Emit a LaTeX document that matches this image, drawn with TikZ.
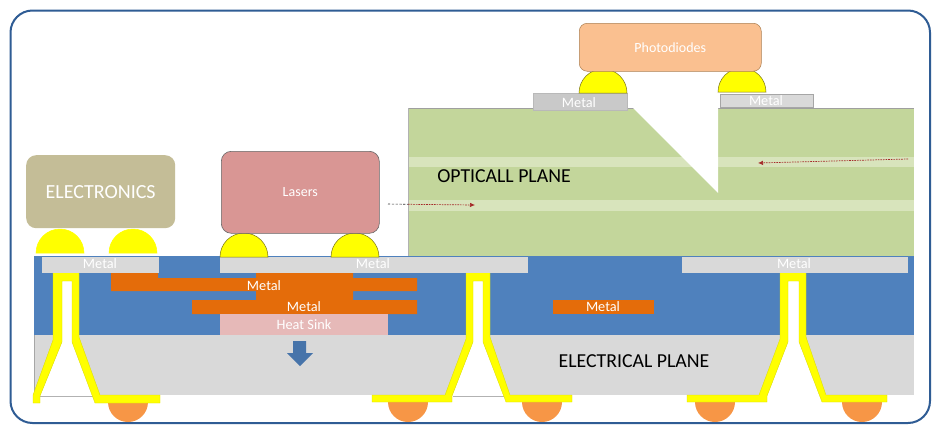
\documentclass[tikz,border=0pt]{standalone}
\usepackage{fontspec}
\setmainfont{Carlito}
\usetikzlibrary{arrows.meta}
\definecolor{frameblue}{HTML}{2F5C94}
\definecolor{subblue}{HTML}{4F81BD}
\definecolor{subgray}{HTML}{D9D9D9}
\definecolor{padgray}{HTML}{C9C9C9}
\definecolor{cuorange}{HTML}{E46C0A}
\definecolor{balloran}{HTML}{F79646}
\definecolor{heatpink}{HTML}{E6B9B8}
\definecolor{optgreen}{HTML}{C3D69B}
\definecolor{stripe}{HTML}{D8E4BC}
\definecolor{viayel}{HTML}{FFFF00}
\definecolor{photo}{HTML}{FAC090}
\definecolor{laser}{HTML}{D99694}
\definecolor{elec}{HTML}{C4BD97}
\definecolor{beam}{HTML}{A52A2A}
\tikzset{
  chipbox/.style={rounded corners=10pt,inner sep=0pt,anchor=north west,font=\fontsize{14}{14}\selectfont,text=white},
  pad/.style={fill=subgray,draw=#1,line width=.6pt,inner sep=0pt,anchor=north west,text=white},
  pad/.default=subgray,
  bump/.style={fill=viayel,draw=#1,line width=.5pt},
  bump/.default=viayel,
  ball/.style={fill=balloran},
  via/.style={fill=viayel,draw=viayel!85!black,line width=.3pt},
  hole/.style={fill=white},
  planelabel/.style={text=black,font=\fontsize{19.8}{19.8}\selectfont,inner sep=0pt},
  metaltext/.style={text=white,font=\fontsize{14.3}{14.3}\selectfont,inner sep=0pt},
  beamline/.style={beam,line width=.7pt,dash pattern=on 1.6pt off 1pt},
  leadline/.style={black!80,line width=.6pt,dash pattern=on 2.2pt off 1.6pt},
}
\newcommand{\semibump}[4]{\path[#4] (#1-#3,#2) arc[start angle=180,end angle=0,radius=#3pt] -- cycle;}
\newcommand{\semiball}[2]{\path[ball] (#1-20,#2) arc[start angle=180,end angle=360,radius=20pt] -- cycle;}
\begin{document}
\begin{tikzpicture}[x=1pt,y=-1pt]
\useasboundingbox (0,0) rectangle (935,426);
\fill[white] (0,0) rectangle (935,426);
\draw[frameblue,line width=2pt,rounded corners=22pt] (10.5,10.5) rectangle (930,423);

% electrical plane
\fill[subblue] (34,256) rectangle (914,335);
\fill[subgray] (34,335) rectangle (914,395);
\draw[gray!70,line width=.4pt] (34,335) -- (34,395);

% optical plane
\fill[optgreen] (408,108) rectangle (914,256);
\fill[stripe] (408,157) rectangle (914,167);
\fill[stripe] (408,200) rectangle (914,211);
\draw[gray!75,line width=.8pt] (408,108) -- (914,108);
\draw[gray!60,line width=.6pt] (408,108) -- (408,256);
\fill[white] (633,108) -- (718,108) -- (718,193) -- cycle;

% copper
\fill[cuorange] (111,271) -- (158,271) -- (158,278) -- (256,278) -- (256,271) -- (353,271) -- (353,278)
  -- (417,278) -- (417,291) -- (353,291) -- (353,300) -- (417,300) -- (417,314) -- (192,314) -- (192,300)
  -- (256,300) -- (256,291) -- (111,291) -- cycle;
\fill[heatpink] (220,314) rectangle (388,335);
\fill[cuorange] (553,300) rectangle (654,314);
\node[metaltext] (m1) at (264,285.5) {Metal};
\node[metaltext] (m2) at (304,307) {Metal};
\node[metaltext] (hs) at (304,325) {Heat Sink};
\node[metaltext] (m3) at (603,307) {Metal};

% heat arrow
\fill[subblue!90!black] (293,341) -- (306,341) -- (306,353) -- (313,353) -- (300,366) -- (287,353) -- (293,353) -- cycle;

% balls
\semiball{128}{402}
\semiball{408}{402}
\semiball{542}{402}
\semiball{715}{402}
\semiball{862}{402}

% vias
\fill[white] (62,281) -- (72,281) -- (72,342) -- (95,396) -- (40,396) -- (62,342) -- cycle;
\draw[gray!60,line width=.5pt] (40,396) -- (95,396);
\path[via] (53,271) -- (79,271) -- (79,337) -- (100,395) -- (160,395) -- (160,403) -- (95,403) -- (72,342)
  -- (72,281) -- (62,281) -- (62,342) -- (40,396) -- (40,403) -- (33,403) -- (33,395) -- (53,340) -- cycle;

\fill[white] (473,281) -- (483,281) -- (483,342) -- (506,396) -- (452,396) -- (473,342) -- cycle;
\draw[gray!60,line width=.5pt] (453,396) -- (505,396);
\path[via] (466,271) -- (490,271) -- (490,337) -- (510,395) -- (572,395) -- (572,402) -- (506,402) -- (483,342)
  -- (483,281) -- (473,281) -- (473,342) -- (452,396) -- (452,402) -- (372,402) -- (372,395) -- (445,395) -- (466,339) -- cycle;

\fill[white] (788,281) -- (799,281) -- (799,342) -- (822,396) -- (767,396) -- (788,342) -- cycle;
\path[via] (780,271) -- (806,271) -- (806,337) -- (826,395) -- (887,395) -- (887,402) -- (822,402) -- (799,342)
  -- (799,281) -- (788,281) -- (788,342) -- (767,396) -- (767,402) -- (687,402) -- (687,395) -- (759,395) -- (780,339) -- cycle;

% metal pads
\node[pad,minimum width=116pt,minimum height=15pt] (p1) at (42,257) {};
\node[pad,minimum width=307pt,minimum height=15pt] (p2) at (220,257) {};
\node[pad,minimum width=225pt,minimum height=15pt] (p3) at (682,257) {};
\node[pad=gray!55,minimum width=94pt,minimum height=17pt,fill=padgray] (p4) at (533,93) {};
\node[pad=gray!70,minimum width=93pt,minimum height=13pt] (p5) at (720,94) {};
\node[metaltext] at (100,264) {Metal};
\node[metaltext] at (373,264) {Metal};
\node[metaltext] at (794,264) {Metal};
\node[metaltext] at (579,102.5) {Metal};
\node[metaltext] at (766,101) {Metal};

% bumps
\semibump{60}{253}{24}{bump}
\semibump{133}{253}{24}{bump}
\semibump{244}{257}{24}{bump=olive!80!black}
\semibump{355}{257}{24}{bump=olive!80!black}
\semibump{603}{93}{24}{bump=olive!80!black}
\semibump{742}{92}{24}{bump=olive!80!black}

% chips
\node[chipbox,fill=elec,minimum width=149pt,minimum height=73pt,font=\fontsize{20}{20}\selectfont] (electronics) at (26,155) {ELECTRONICS};
\node[chipbox,fill=laser,draw=gray!80!black,line width=.6pt,minimum width=158pt,minimum height=82pt] (lasers) at (221,151) {Lasers};
\node[chipbox,fill=photo,draw=brown!70!gray,line width=.5pt,minimum width=182pt,minimum height=48pt,rounded corners=8pt] (photodiodes) at (579,23) {Photodiodes};

% plane labels
\node[planelabel] (optical) at (504,176) {OPTICALL PLANE};
\node[planelabel] (electrical) at (634,361) {ELECTRICAL PLANE};

% light paths
\coordinate (a1) at (388,204);
\coordinate (a0) at (408,204.3);
\coordinate (a2) at (475,205);
\coordinate (b1) at (908,159);
\coordinate (b2) at (758,163);
\draw[leadline] (a1) -- (a0);
\draw[beamline,-{Latex[length=5pt,width=4.5pt]}] (a0) -- (a2);
\draw[beamline,-{Latex[length=5pt,width=4.5pt]}] (b1) -- (b2);
\end{tikzpicture}
\end{document}
